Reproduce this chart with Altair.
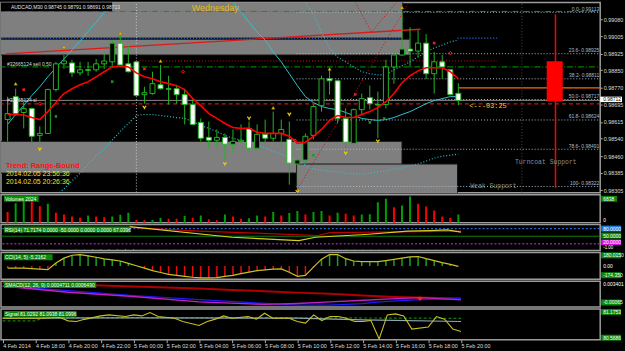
import json
import altair as alt
import pandas as pd

# ---------------- data ----------------
time_labels = ["4 Feb 2014", "4 Feb 18:00", "4 Feb 20:00", "4 Feb 22:00", "5 Feb 00:00",
               "5 Feb 02:00", "5 Feb 04:00", "5 Feb 06:00", "5 Feb 08:00", "5 Feb 10:00",
               "5 Feb 12:00", "5 Feb 14:00", "5 Feb 16:00", "5 Feb 18:00", "5 Feb 20:00"]

opens = [0.98626, 0.98730, 0.98658, 0.98676, 0.98554, 0.98563, 0.98762, 0.98879, 0.98883, 0.98838,
         0.98852, 0.98852, 0.98879, 0.98888, 0.98973, 0.98879, 0.98888, 0.98739, 0.98744, 0.98784,
         0.98766, 0.98766, 0.98739, 0.98694, 0.98613, 0.98545, 0.98532, 0.98545, 0.98514, 0.98527,
         0.98586, 0.98496, 0.98559, 0.98541, 0.98563, 0.98536, 0.98424, 0.98442, 0.98554, 0.98689,
         0.98811, 0.98802, 0.98631, 0.98518, 0.98671, 0.98725, 0.98694, 0.98694, 0.98865, 0.98919,
         0.98946, 0.98937, 0.98973, 0.98834, 0.98888, 0.98852, 0.98745]
highs = [0.98730, 0.98766, 0.98707, 0.98680, 0.98595, 0.98766, 0.98888, 0.98919, 0.98897, 0.98888,
         0.98888, 0.98901, 0.98928, 0.98987, 0.99009, 0.98964, 0.98892, 0.98775, 0.98843, 0.98874,
         0.98825, 0.98784, 0.98766, 0.98721, 0.98631, 0.98617, 0.98581, 0.98563, 0.98581, 0.98604,
         0.98617, 0.98604, 0.98626, 0.98662, 0.98626, 0.98617, 0.98451, 0.98563, 0.98694, 0.98825,
         0.98856, 0.98807, 0.98676, 0.98676, 0.98744, 0.98780, 0.98753, 0.98897, 0.98933, 0.99113,
         0.99045, 0.99032, 0.99014, 0.98933, 0.98919, 0.98852, 0.98791]
lows = [0.98527, 0.98644, 0.98586, 0.98518, 0.98514, 0.98560, 0.98753, 0.98856, 0.98820, 0.98825,
        0.98825, 0.98843, 0.98856, 0.98865, 0.98865, 0.98840, 0.98730, 0.98698, 0.98739, 0.98762,
        0.98694, 0.98698, 0.98604, 0.98600, 0.98527, 0.98496, 0.98496, 0.98446, 0.98473, 0.98518,
        0.98482, 0.98491, 0.98514, 0.98527, 0.98505, 0.98330, 0.98322, 0.98424, 0.98536, 0.98662,
        0.98739, 0.98608, 0.98496, 0.98514, 0.98649, 0.98671, 0.98541, 0.98676, 0.98789, 0.98917,
        0.98865, 0.98910, 0.98811, 0.98744, 0.98811, 0.98735, 0.98691]
closes = [0.98653, 0.98653, 0.98676, 0.98550, 0.98563, 0.98762, 0.98879, 0.98892, 0.98838, 0.98852,
          0.98850, 0.98879, 0.98892, 0.98973, 0.98874, 0.98843, 0.98735, 0.98748, 0.98789, 0.98766,
          0.98764, 0.98739, 0.98694, 0.98604, 0.98541, 0.98532, 0.98545, 0.98514, 0.98527, 0.98532,
          0.98496, 0.98559, 0.98541, 0.98563, 0.98581, 0.98428, 0.98442, 0.98550, 0.98685, 0.98811,
          0.98802, 0.98631, 0.98523, 0.98671, 0.98721, 0.98698, 0.98692, 0.98865, 0.98919, 0.98946,
          0.98937, 0.98973, 0.98834, 0.98888, 0.98865, 0.98739, 0.98713]

ma_red = [0.98649, 0.98649, 0.98647, 0.98635, 0.98626, 0.98662, 0.98703, 0.98744, 0.98766, 0.98784,
          0.98798, 0.98820, 0.98843, 0.98865, 0.98870, 0.98865, 0.98838, 0.98820, 0.98811, 0.98798,
          0.98789, 0.98780, 0.98762, 0.98721, 0.98689, 0.98653, 0.98631, 0.98608, 0.98590, 0.98586,
          0.98586, 0.98568, 0.98563, 0.98563, 0.98563, 0.98550, 0.98518, 0.98523, 0.98550, 0.98581,
          0.98622, 0.98644, 0.98635, 0.98635, 0.98649, 0.98662, 0.98680, 0.98707, 0.98744, 0.98793,
          0.98825, 0.98847, 0.98861, 0.98861, 0.98861, 0.98843, 0.98811]

band_solid = [0.98604, 0.98649, 0.98690, 0.98735, 0.98775, 0.98820, 0.98861, 0.98901, 0.98942, 0.98982,
              0.99027, 0.99068, 0.99113, 0.99153, 0.99203, 0.99248, 0.99284, 0.99316, 0.99338, 0.99356,
              0.99365, 0.99365, 0.99356, 0.99338, 0.99311, 0.99275, 0.99239, 0.99199, 0.99158, 0.99113,
              0.99068, 0.99023, 0.98987, 0.98933, 0.98888, 0.98834, 0.98780, 0.98730, 0.98703, 0.98685,
              0.98676, 0.98671, 0.98658, 0.98644, 0.98631, 0.98626, 0.98622, 0.98626, 0.98635, 0.98649,
              0.98662, 0.98680, 0.98698, 0.98712, 0.98721, 0.98730, 0.98730]
band_upper_start = 34
band_upper = [0.99338, 0.99271, 0.99203, 0.99158, 0.99104, 0.99023, 0.98951, 0.98910, 0.98888, 0.98865,
              0.98843, 0.98834, 0.98829, 0.98829, 0.98852, 0.98870, 0.98888, 0.98910, 0.98933, 0.98951,
              0.98964, 0.98978, 0.98987]
band_lower_start = 4
band_lower = [0.98212, 0.98243, 0.98280, 0.98311, 0.98347, 0.98383, 0.98424, 0.98460, 0.98496, 0.98532,
              0.98572, 0.98608, 0.98644, 0.98649, 0.98649, 0.98644, 0.98640, 0.98635, 0.98631, 0.98617,
              0.98599, 0.98586, 0.98572, 0.98554, 0.98541, 0.98532, 0.98523, 0.98509, 0.98496, 0.98482,
              0.98469, 0.98455, 0.98437, 0.98419, 0.98401, 0.98397, 0.98392, 0.98388, 0.98383, 0.98379,
              0.98379, 0.98383, 0.98388, 0.98392, 0.98401, 0.98406, 0.98415, 0.98424, 0.98437, 0.98451,
              0.98460, 0.98464, 0.98469]

price_ticks = [0.99080, 0.99005, 0.98925, 0.98850, 0.98770, 0.98695, 0.98615, 0.98540, 0.98460, 0.98385, 0.98305]
fib_prices = [0.99113, 0.98925, 0.98811, 0.98717, 0.98624, 0.98491, 0.98322]
fib_texts = ["0.0- 0.99113", "23.6- 0.98925", "38.2- 0.98811", "50.0- 0.98717", "61.8- 0.98624",
             "78.6- 0.98491", "100- 0.98322"]

zone_start = [-1, -1, -1, 35.9]
zone_end = [49.1, 50.0, 49.0, 55.9]
zone_top = [0.99170, 0.98991, 0.98527, 0.98424]
zone_bottom = [0.98996, 0.98919, 0.98383, 0.98280]

frac_up_i = [1, 7, 14, 19, 33, 40, 49]
frac_up_p = [0.98789, 0.98955, 0.99018, 0.98892, 0.98680, 0.98856, 0.99135]
frac_dn_i = [4, 17, 27, 30, 35, 36, 42, 46]
frac_dn_p = [0.98491, 0.98680, 0.98424, 0.98631, 0.98649, 0.98298, 0.98473, 0.98527]
red_x_i = [2, 17, 43.2, 53]
red_x_p = [0.98762, 0.98856, 0.98740, 0.98973]
red_d_i = [4, 21.8, 35.7, 55]
red_d_p = [0.98698, 0.98843, 0.98531, 0.98928]
grn_x_i = [6, 13, 38, 45, 46.8]
grn_x_p = [0.98640, 0.98798, 0.98464, 0.98613, 0.98631]

volumes = [2756, 5096, 5720, 5538, 4316, 4940, 2600, 2158, 1638, 1300,
           1898, 1638, 1378, 1638, 2080, 2600, 780, 600, 780, 1300,
           1040, 1010, 1716, 1300, 1898, 858, 600, 2158, 1638, 1040,
           1118, 1898, 1638, 2756, 1898, 2496, 3016, 2158, 2756, 3016,
           1898, 2600, 2340, 1898, 2158, 2210, 5356, 6240, 4056, 4498,
           6838, 4940, 4238, 3198, 1638, 1300, 2158]

rsi_red_i = [15.6, 24, 31, 38.5, 40, 48, 56]
rsi_red_v = [85, 70, 62, 53, 64, 67, 70]
rsi_yel_i = [15.5, 28, 36.2, 38.2, 44.3, 49.5, 52.3, 54.3, 56]
rsi_yel_v = [88, 46, 33, 46, 57, 70, 72.5, 75, 66]
rsi_tick_kind = ["g"] * 11 + ["w"] * 6 + ["g"] * 20 + ["r"] * 3 + ["g"] * 17

cci = [-27, -29, -29, -35, -42, -48, 40, 104, 142, 151,
       135, 116, 94, 82, 66, 34, 3, -29, -61, -86,
       -111, -124, -137, -149, -158, -157, -153, -137, -124, -102,
       -82, -61, -52, -42, -39, -82, -137, -124, -16, 91,
       151, 151, 97, 66, 57, 57, 57, 72, 87, 104,
       120, 125, 97, 72, 44, 22, -5]

macd_red_i = [0, 4, 8, 12, 16, 20, 24, 28, 32, 36, 40, 44, 48, 52, 56]
macd_red_v = [0.00310, 0.00295, 0.00288, 0.00273, 0.00258, 0.00240, 0.00223, 0.00201, 0.00183, 0.00160,
              0.00141, 0.00115, 0.00093, 0.00081, 0.00066]
macd_blue_i = [0, 8, 16, 24, 32, 36, 40, 44, 46, 51, 56]
macd_blue_v = [0.00265, 0.00190, 0.00115, 0.00051, -0.00009, -0.00035, -0.00035, -0.00012, 0.00015, 0.00051, 0.00066]
macd_mag_i = [0, 8, 16, 24, 32, 36, 40, 44, 48, 51, 56]
macd_mag_v = [0.00265, 0.00165, 0.00100, 0.00015, -0.00025, -0.00010, 0.00015, 0.00040, 0.00066, 0.00081, 0.00047]

sig_yel_i = [0, 5, 7, 8, 9, 10, 12, 13, 15, 16, 17, 18, 19, 21, 22, 24, 25, 26, 27, 28, 30, 31, 32, 33,
             35, 36, 37, 38, 39, 40, 41, 42, 43, 44, 45, 46, 47, 48, 49, 50, 52, 53, 54, 55, 56]
sig_yel_v = [80.993, 80.993, 81.005, 80.940, 80.927, 80.970, 81.038, 81.058, 81.025, 81.058, 81.038, 81.103,
             81.025, 80.993, 80.927, 80.848, 80.927, 80.974, 81.038, 80.993, 81.025, 80.974, 81.091, 80.993,
             80.993, 80.927, 80.895, 81.058, 80.946, 81.025, 81.025, 80.993, 80.927, 80.927, 80.946, 80.582,
             81.058, 81.077, 81.038, 80.778, 80.817, 81.025, 80.974, 80.778, 80.731]
sig_gray_i = [0, 16, 36, 44, 56]
sig_gray_v = [80.993, 81.000, 80.993, 80.960, 80.927]
sig_grn_i = [0, 4, 5, 30, 56]
sig_grn_v = [80.940, 80.940, 81.005, 81.005, 80.990]

# ---------------- styles ----------------
GREEN = "#22b422"
FONT = "Liberation Sans"
XS = alt.Scale(domain=[-0.206, 73.01], nice=False, zero=False)
PS = alt.Scale(domain=[0.98293, 0.99158], nice=False, zero=False)
MAIN_AXIS = alt.Axis(orient="right", values=price_ticks, format=".5f", title=None)
W = 604

XAX = alt.Axis(values=list(range(0, 57, 4)),
               labelExpr=json.dumps(time_labels) + "[round(datum.value/4)]",
               labelAlign="left", labelPadding=1, tickSize=3, labelFlush=False,
               labelOverlap=False, title=None)


def xq(f="i", axis=None):
    return alt.X(f + ":Q", scale=XS, axis=axis, title=None)


def yp(f):
    return alt.Y(f + ":Q", scale=PS, axis=MAIN_AXIS, title=None)


def txt(s, x, y, color="#ffffff", size=5, align="left", weight="normal", font=FONT):
    return alt.Chart(pd.DataFrame({"t": [s]})).mark_text(
        align=align, baseline="middle", color=color, fontSize=size, font=font, fontWeight=weight
    ).encode(x=alt.value(x), y=alt.value(y), text="t:N")


def box(x1, x2, y1, y2, color):
    return alt.Chart(pd.DataFrame({"a": [0]})).mark_rect(color=color).encode(
        x=alt.value(x1), x2=alt.value(x2), y=alt.value(y1), y2=alt.value(y2))


idx = list(range(len(opens)))
cdf = pd.DataFrame({"i": idx, "o": opens, "h": highs, "l": lows, "c": closes, "ma": ma_red, "bs": band_solid})

# ---------------- main panel ----------------
zones = pd.DataFrame({"start": zone_start, "end": zone_end, "top": zone_top, "bottom": zone_bottom})
z_layer = alt.Chart(zones).mark_rect(fill="#7f7f7f", stroke="#151515", strokeWidth=1, clip=True).encode(
    x=xq("start"), x2="end:Q", y=yp("top"), y2="bottom:Q")


def hline(a, b, p, color, dash=None, width=1.0):
    df = pd.DataFrame({"a": a, "b": b, "p": p})
    kw = dict(color=color, strokeWidth=width, clip=True)
    if dash:
        kw["strokeDash"] = dash
    return alt.Chart(df).mark_rule(**kw).encode(x=xq("a"), x2="b:Q", y=yp("p"))


def vline(i, p1, p2, color, dash=None, width=1.0):
    df = pd.DataFrame({"i": [i], "p1": [p1], "p2": [p2]})
    kw = dict(color=color, strokeWidth=width, clip=True)
    if dash:
        kw["strokeDash"] = dash
    return alt.Chart(df).mark_rule(**kw).encode(x=xq("i"), y=yp("p1"), y2="p2:Q")


def pline(ii, pp, color, dash=None, width=1.0):
    df = pd.DataFrame({"i": ii, "p": pp})
    kw = dict(color=color, strokeWidth=width, clip=True)
    if dash:
        kw["strokeDash"] = dash
    return alt.Chart(df).mark_line(**kw).encode(x=xq("i"), y=yp("p"), order="i:Q")


layers = [
    z_layer,
    hline([-1], [74], [0.99117], "#00a000", [6, 2, 1, 2]),
    hline([-1], [74], [0.98865], "#00a000", [6, 2, 1, 2]),
    hline([-1, 55.9], [49.1, 60.8], [0.98996, 0.98996], "#2a7fff", [1, 2], 1.3),
    hline([16], [60.8], [0.98892], "#e01010", [1, 2]),
    hline([-1], [74], [0.98713], "#8a8a8a", None, 1),
    hline([-1], [74], [0.98697], "#ff1a1a", [4, 3], 1),
    hline([35.9] * 7, [74] * 7, fib_prices, "#a9bccd", [1, 2], 1),
    hline([56], [74], [0.98770], "#ff6a00", None, 1.4),
    vline(16, 0.98200, 0.99200, "#c8c8c8", [1, 2]),
    vline(63.9, 0.98200, 0.99200, "#4a4a4a", [1, 2]),
    alt.Chart(pd.DataFrame({"a": [66.98], "b": [68.97], "t": [0.98891], "u": [0.98708]})).mark_rect(
        color="#ff0000", clip=True).encode(x=xq("a"), x2="b:Q", y=yp("t"), y2="u:Q"),
    vline(68.07, 0.98316, 0.99104, "#ff0000", None, 1.5),
    pline([-0.2, 51.3], [0.98924, 0.99036], "#e01818", None, 1.3),
    pline([35.9, 49.85], [0.98302, 0.99158], "#d01010", [1, 2]),
    pline([43.2, 45.2, 48.3], [0.99158, 0.99023, 0.99158], "#d01010", [1, 2]),
    pline(idx, band_solid, "#2ec3cf", None, 1),
    pline(list(range(band_upper_start, band_upper_start + len(band_upper))), band_upper, "#2ec3cf", [1, 2], 1.2),
    pline(list(range(band_lower_start, band_lower_start + len(band_lower))), band_lower, "#2ec3cf", [1, 2], 1.2),
    alt.Chart(cdf).mark_rule(color=GREEN, strokeWidth=1, clip=True).encode(x=xq(), y=yp("l"), y2="h:Q"),
    alt.Chart(cdf).mark_bar(size=5, stroke=GREEN, strokeWidth=1, clip=True).encode(
        x=xq(), y=yp("o"), y2="c:Q",
        fill=alt.condition("datum.c >= datum.o", alt.value("#000000"), alt.value("#ffffff"))),
    alt.Chart(cdf).mark_line(color="#ff0000", strokeWidth=1.6, clip=True).encode(x=xq(), y=yp("ma")),
    alt.Chart(pd.DataFrame({"i": frac_up_i, "p": frac_up_p})).mark_point(
        shape="triangle-up", filled=True, color="#f0d000", size=12, stroke="#806000", strokeWidth=0.4, opacity=1,
        clip=True).encode(x=xq(), y=yp("p")),
    alt.Chart(pd.DataFrame({"i": frac_dn_i, "p": frac_dn_p})).mark_point(
        shape="M-1,-1L0,0.2L1,-1M0,0.2L0,1", filled=False, color="#f0d000", size=12, strokeWidth=1.2, opacity=1,
        clip=True).encode(x=xq(), y=yp("p")),
    alt.Chart(pd.DataFrame({"i": red_x_i, "p": red_x_p})).mark_point(
        shape="cross", angle=45, filled=True, color="#ff2020", size=10, opacity=1, clip=True).encode(x=xq(), y=yp("p")),
    alt.Chart(pd.DataFrame({"i": red_d_i, "p": red_d_p})).mark_point(
        shape="diamond", filled=False, color="#ff2020", size=10, strokeWidth=1, opacity=1, clip=True).encode(x=xq(), y=yp("p")),
    alt.Chart(pd.DataFrame({"i": grn_x_i, "p": grn_x_p})).mark_point(
        shape="cross", angle=45, filled=True, color="#1f9a1f", size=10, opacity=1, clip=True).encode(x=xq(), y=yp("p")),
    alt.Chart(pd.DataFrame({"p": fib_prices, "t": fib_texts})).mark_text(
        align="right", baseline="bottom", dy=-0.5, color="#a9bccd", fontSize=5, font=FONT).encode(
        x=alt.value(603), y=yp("p"), text="t:N"),
    box(0, 112, 0, 9, "#000000"),
    txt("AUDCAD,M30  0.98745 0.98791 0.98691 0.98713", 10, 4.5, "#e6e6e6", 5),
    txt("Wednesday", 216, 6, "#e8b820", 9, "center"),
    txt("#32665124 sell 0.50", 6, 62, "#d8d8d8", 5),
    txt("#32665124 sl", 6, 98, "#d8d8d8", 5),
    txt("Trend: Range-Bound", 5, 165, "#ff1010", 7.5, "left", "bold"),
    txt("2014.02.05 23:56:36", 5, 173, "#f0e020", 7),
    txt("2014.02.05 20:26:36", 5, 181, "#f0e020", 7),
    txt("<---03:25", 472, 104, "#f0d020", 7, "left", "normal", "Liberation Mono"),
    txt("Turncoat Support", 518, 161, "#8c8c8c", 6.5, "left", "normal", "Liberation Mono"),
    txt("Weak Support", 473, 185, "#8c8c8c", 6.5, "left", "normal", "Liberation Mono"),
    box(604, 626, 95, 100.5, "#ffffff"),
    txt("0.98712", 607, 97.8, "#000000", 5),
]
main = alt.layer(*layers).properties(width=W, height=192)

# ---------------- volume ----------------
vdf = pd.DataFrame({"i": idx, "v": volumes})
vdf["up"] = vdf["v"].diff().fillna(-1) > 0
VS = alt.Scale(domain=[0, 7280], nice=False)
vol = alt.layer(
    alt.Chart(vdf).mark_bar(size=2, clip=True).encode(
        x=xq(), y=alt.Y("v:Q", scale=VS, axis=None),
        color=alt.condition("datum.up", alt.value("#00a000"), alt.value("#ff0000"))),
    box(3, 38, 1, 7, "#0a8a0a"),
    txt("Volumes 2024", 4, 4, "#ffffff", 5),
    box(605, 621, 1, 7, "#0a8a0a"),
    txt("6838", 607, 4, "#ffffff", 5),
    txt("0", 607, 25.5, "#ffffff", 5),
).properties(width=W, height=28)

# ---------------- RSI ----------------
RS = alt.Scale(domain=[-6, 96], nice=False, zero=False)
tick_col = {"g": "#1a8a1a", "w": "#9a9a9a", "r": "#e01010"}
rtdf = pd.DataFrame({"i": idx, "a": [-5] * len(idx), "b": [-1.5] * len(idx),
                     "col": [tick_col[k] for k in rsi_tick_kind]})


def rl(ii, vv, color, dash=None, width=1.0):
    df = pd.DataFrame({"i": ii, "v": vv})
    kw = dict(color=color, strokeWidth=width, clip=True)
    if dash:
        kw["strokeDash"] = dash
    return alt.Chart(df).mark_line(**kw).encode(x=xq(), y=alt.Y("v:Q", scale=RS, axis=None))


def rh(v, color, dash=None, width=1.0):
    df = pd.DataFrame({"a": [-1], "b": [74], "v": [v]})
    kw = dict(color=color, strokeWidth=width, clip=True)
    if dash:
        kw["strokeDash"] = dash
    return alt.Chart(df).mark_rule(**kw).encode(x=xq("a"), x2="b:Q", y=alt.Y("v:Q", scale=RS, axis=None))


rsi = alt.layer(
    rh(80, "#2a7fff", [2, 2]),
    rh(50, "#108010", None, 1),
    rh(20, "#9020a0", [2, 2], 1.5),
    alt.Chart(rtdf).mark_rule(strokeWidth=1, clip=True).encode(
        x=xq(), y=alt.Y("a:Q", scale=RS, axis=None), y2="b:Q", color=alt.Color("col:N", scale=None)),
    rl(rsi_red_i, rsi_red_v, "#c00000", None, 1.2),
    rl(rsi_yel_i, rsi_yel_v, "#d8d020", None, 1.2),
    box(3, 130, 2, 8, "#0a8a0a"),
    txt("RSI(14) 71.7174 0.0000 -50.0000 0.0000 0.0000 67.0396", 4, 5, "#ffffff", 5),
    box(605, 625, 1, 7, "#1e78d8"),
    txt("80.0000", 607, 4, "#ffffff", 5),
    box(605, 625, 8, 14, "#0a8a0a"),
    txt("50.0000", 607, 11, "#ffffff", 5),
    box(605, 625, 15, 20.5, "#e010e0"),
    txt("20.0000", 607, 17.8, "#ffffff", 5),
    txt("-1.00", 607, 23.8, "#ffffff", 4.5),
).properties(width=W, height=26)

# ---------------- CCI ----------------
CS = alt.Scale(domain=[-174.35, 180.015], nice=False, zero=False)
ccdf = pd.DataFrame({"i": idx, "v": cci})
ccip = alt.layer(
    alt.Chart(ccdf).mark_bar(size=1.5, clip=True).encode(
        x=xq(), y=alt.Y("v:Q", scale=CS, axis=None), y2=alt.datum(0),
        color=alt.condition("datum.v >= 0", alt.value("#1ea01e"), alt.value("#e01010"))),
    alt.Chart(ccdf).mark_line(color="#c8c020", strokeWidth=1.2, clip=True).encode(
        x=xq(), y=alt.Y("v:Q", scale=CS, axis=None)),
    box(3, 52, 2, 8, "#0a8a0a"),
    txt("CCI(14, 5) -5.2162", 4, 5, "#ffffff", 5),
    box(605, 625, 0, 6, "#0a8a0a"),
    txt("180.0150", 607, 3, "#ffffff", 5),
    txt("0.00", 607, 13.5, "#ffffff", 5),
    box(605, 625, 20, 26, "#0a8a0a"),
    txt("-174.350", 607, 23, "#ffffff", 5),
).properties(width=W, height=27)

# ---------------- MACD ----------------
MS = alt.Scale(domain=[-0.00065, 0.003401], nice=False, zero=False)


def ml(ii, vv, color, width=1.0):
    df = pd.DataFrame({"i": ii, "v": vv})
    return alt.Chart(df).mark_line(color=color, strokeWidth=width, clip=True).encode(
        x=xq(), y=alt.Y("v:Q", scale=MS, axis=None))


macdp = alt.layer(
    ml(macd_red_i, macd_red_v, "#b00000", 2),
    ml(macd_blue_i, macd_blue_v, "#1a1aff", 1.2),
    ml(macd_mag_i, macd_mag_v, "#c020c0", 1.4),
    alt.Chart(pd.DataFrame({"i": [51], "v": [0.00066]})).mark_point(
        shape="cross", filled=True, color="#ff2020", size=16, opacity=1).encode(
        x=xq(), y=alt.Y("v:Q", scale=MS, axis=None)),
    box(3, 96, 1, 7, "#0a8a0a"),
    txt("SMACD(12, 26, 9) 0.0004711 0.0006490", 4, 4, "#ffffff", 5),
    txt("0.003401", 607, 2.5, "#ffffff", 5),
    box(605, 625, 18.5, 24.5, "#0a8a0a"),
    txt("-0.00065", 607, 21.5, "#ffffff", 5),
).properties(width=W, height=26)

# ---------------- Signal ----------------
SS = alt.Scale(domain=[80.5686, 81.1753], nice=False, zero=False)


def sl(ii, vv, color, dash=None, width=1.0, axis=None):
    df = pd.DataFrame({"i": ii, "v": vv})
    kw = dict(color=color, strokeWidth=width, clip=True)
    if dash:
        kw["strokeDash"] = dash
    return alt.Chart(df).mark_line(**kw).encode(
        x=xq("i", axis), y=alt.Y("v:Q", scale=SS, axis=None))


sigp = alt.layer(
    sl(sig_grn_i, sig_grn_v, "#127a12", [3, 2], 1.2, XAX),
    sl(sig_gray_i, sig_gray_v, "#8fa8b0", None, 1.2, XAX),
    sl(sig_yel_i, sig_yel_v, "#c8c020", None, 1.1, XAX),
    box(3, 76, 2, 8, "#0a8a0a"),
    txt("Signal 81.0292 81.0938 81.0996", 4, 5, "#ffffff", 5),
    box(605, 625, 0, 6, "#0a8a0a"),
    txt("81.1753", 607, 3, "#ffffff", 5),
    box(605, 625, 26, 32, "#0a8a0a"),
    txt("80.5686", 607, 29, "#ffffff", 5),
).properties(width=W, height=31)

chart = alt.vconcat(main, vol, rsi, ccip, macdp, sigp, spacing=2, bounds="flush",
                    background="#000000", padding=0).configure_view(
    stroke="#9c9c9c", strokeWidth=1.5, fill="#000000"
).configure_axis(
    labelFont=FONT, labelFontSize=5.5, labelColor="#dcdcdc", tickColor="#b0b0b0", tickSize=2,
    labelPadding=1, domain=False, grid=False
)

chart.save("out.html", embed_options={"renderer": "svg", "actions": False})
